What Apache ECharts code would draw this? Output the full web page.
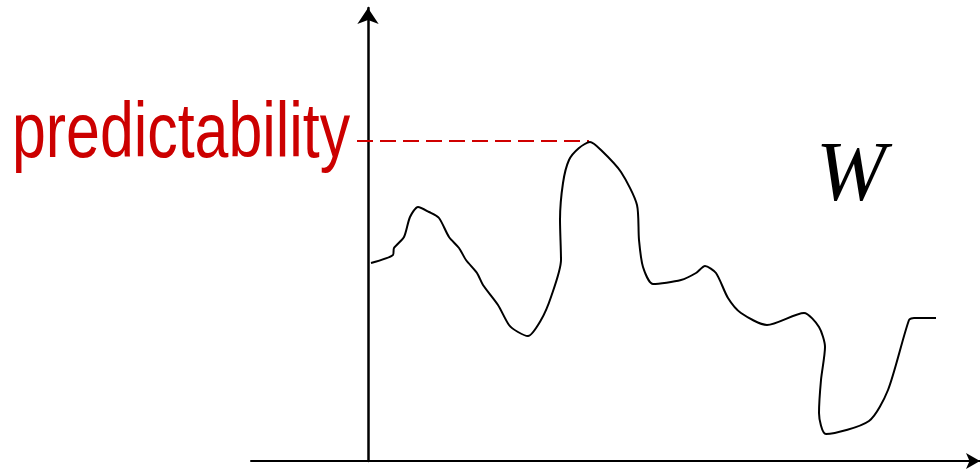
<!DOCTYPE html>
<html>
<head>
<meta charset="utf-8">
<script src="https://cdn.jsdelivr.net/npm/echarts@6/dist/echarts.min.js"></script>
<style>
  html, body { margin: 0; padding: 0; background: #fff; }
  #chart { width: 980px; height: 470px; }
</style>
</head>
<body>
<div id="chart"></div>
<script>
// curve (x to the right of the y axis, y above the x axis)
var curveX = [3, 25, 26, 36, 42, 50, 61, 71, 81, 91, 98, 109, 115, 130, 141, 150, 160, 173, 183, 193,
  192, 195, 201, 211, 222, 233, 253, 269, 271, 275, 285, 313, 328, 337, 348, 360, 373, 399, 436, 451,
  457, 453, 451, 458, 501, 520, 541, 546, 568]
var curveY = [198, 206, 213, 224, 244, 254, 249, 243, 224, 213, 201, 188, 176, 156, 136, 129, 125, 141, 164, 201,
  241, 278, 301, 313, 319, 311, 289, 256, 221, 194, 177, 181, 188, 195, 188, 163, 148, 136, 148, 134,
  114, 81, 48, 27, 40, 71, 141, 143, 143]
// dashed level of the peak
var levelX = [-11, 221]
var levelY = 320
var levelLabel = 'predictability'
var curveLabel = 'W'

var chart = echarts.init(document.getElementById('chart'))

var curveData = []
for (var i = 0; i < curveX.length; i++) {
  curveData.push([curveX[i], curveY[i]])
}

var option = {
  animation: false,
  grid: { left: 251, right: 0, top: 8, bottom: 9 },
  xAxis: {
    type: 'value',
    min: -117,
    max: 612,
    splitLine: { show: false },
    axisTick: { show: false },
    axisLabel: { show: false },
    axisLine: {
      show: true,
      symbol: ['none', 'arrow'],
      symbolSize: [12, 14],
      lineStyle: { color: '#000', width: 2 }
    }
  },
  yAxis: {
    type: 'value',
    min: 0,
    max: 453,
    splitLine: { show: false },
    axisTick: { show: false },
    axisLabel: { show: false },
    axisLine: {
      show: true,
      onZero: true,
      symbol: ['none', 'arrow'],
      symbolSize: [16, 16],
      lineStyle: { color: '#000', width: 2.5 }
    }
  },
  series: [
    {
      type: 'line',
      data: [[levelX[0], levelY], [levelX[1], levelY]],
      symbol: 'none',
      lineStyle: { color: '#d00000', width: 2, type: [16, 7] }
    },
    {
      type: 'line',
      data: curveData,
      symbol: 'none',
      smooth: 0.25,
      lineStyle: { color: '#000', width: 2 }
    }
  ],
  graphic: [
    {
      type: 'text',
      x: 12,
      y: 135,
      scaleX: 0.78,
      style: {
        text: levelLabel,
        font: '78px "Liberation Sans", Arial, sans-serif',
        fill: '#cc0000',
        verticalAlign: 'middle'
      }
    },
    {
      type: 'text',
      x: 816,
      y: 178,
      style: {
        text: curveLabel,
        font: 'italic 84px "Liberation Serif", "Times New Roman", serif',
        fill: '#000',
        verticalAlign: 'middle'
      }
    }
  ]
}
chart.setOption(option)
</script>
</body>
</html>
